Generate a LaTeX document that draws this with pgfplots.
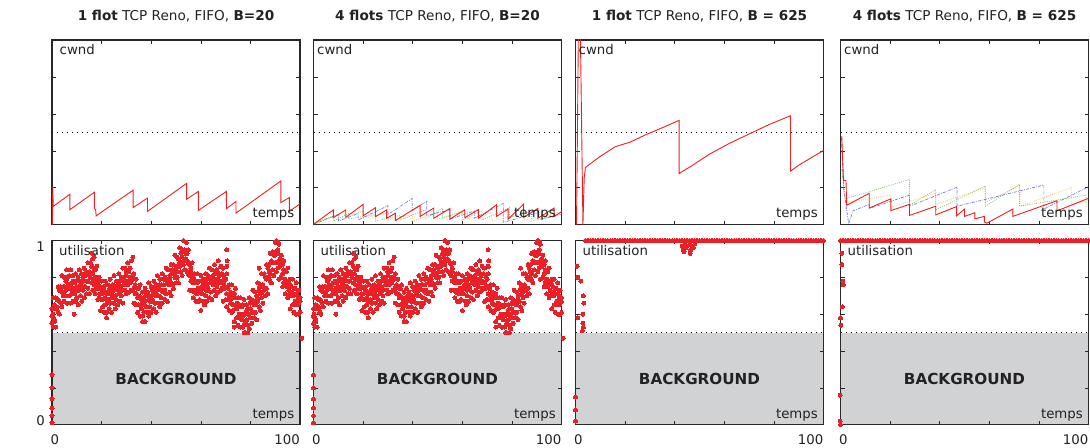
\documentclass[border=0pt]{standalone}
\usepackage{pgfplots}
\pgfplotsset{compat=1.18}
\usepackage{pgfplotstable}
\usepackage{fontspec}
\setmainfont{DejaVu Sans}
\definecolor{lred}{RGB}{240,30,30}
\definecolor{sred}{RGB}{234,32,38}
\definecolor{bgg}{RGB}{209,210,212}
\definecolor{fr}{RGB}{40,40,40}
\definecolor{txt}{RGB}{34,34,34}
\definecolor{lblue}{RGB}{70,80,200}
\definecolor{lgreen}{RGB}{90,175,50}
\definecolor{lorange}{RGB}{250,175,50}
\newcommand{\lf}{\fontsize{13.3bp}{16bp}\selectfont}
\newcommand{\tf}{\fontsize{13.6bp}{16bp}\selectfont}
\newcommand{\bgf}{\fontsize{15.2bp}{18bp}\selectfont\bfseries}

\pgfplotstableread{
x a c b
0 .63 .59 .55
0.5 .69 .58 .53
1 .64 .65 .57
1.5 .69 .63 .53
2 .68 .64 .63
2.5 .75 .68 .61
3 .73 .67 .60
3.5 .75 .73 .66
4 .81 .72 .64
4.5 .75 .72 .70
5 .80 .75 .67
5.5 .78 .73 .70
6 .84 .79 .66
6.5 .80 .76 .74
7 .81 .75 .70
7.5 .84 .76 .66
8 .77 .73 .71
8.5 .81 .78 .67
9 .77 .74 .71
9.5 .82 .73 .67
10 .78 .75 .69
10.5 .80 .73 .65
11 .84 .78 .73
11.5 .78 .76 .70
12 .82 .75 .67
12.5 .80 .78 .73
13 .85 .75 .69
13.5 .82 .81 .75
14 .83 .78 .71
14.5 .88 .78 .74
15 .83 .82 .71
15.5 .88 .80 .80
16 .86 .86 .77
16.5 .90 .82 .73
17 .84 .79 .76
17.5 .84 .80 .71
18 .86 .75 .74
18.5 .77 .78 .68
19 .80 .74 .69
19.5 .75 .71 .62
20 .78 .71 .68
20.5 .74 .68 .64
21 .75 .73 .61
21.5 .78 .69 .65
22 .71 .68 .61
22.5 .76 .71 .67
23 .73 .68 .63
23.5 .79 .74 .66
24 .75 .71 .61
24.5 .76 .70 .69
25 .81 .73 .66
25.5 .74 .70 .63
26 .78 .75 .68
26.5 .76 .73 .65
27 .82 .73 .71
27.5 .78 .75 .67
28 .80 .73 .70
28.5 .85 .79 .66
29 .80 .78 .76
29.5 .85 .78 .73
30 .83 .81 .71
30.5 .88 .78 .76
31 .84 .83 .72
31.5 .85 .80 .77
32 .89 .79 .73
32.5 .80 .79 .73
33 .82 .74 .66
33.5 .76 .76 .71
34 .79 .71 .65
34.5 .74 .69 .61
35 .74 .70 .65
35.5 .76 .65 .59
36 .68 .69 .63
36.5 .72 .66 .59
37 .69 .65 .61
37.5 .74 .67 .56
38 .70 .64 .64
38.5 .72 .70 .61
39 .77 .68 .59
39.5 .70 .67 .64
40 .75 .70 .61
40.5 .73 .68 .67
41 .78 .73 .63
41.5 .75 .71 .66
42 .76 .70 .61
42.5 .81 .73 .70
43 .74 .70 .66
43.5 .79 .76 .64
44 .76 .73 .69
44.5 .82 .73 .66
45 .79 .76 .72
45.5 .80 .73 .68
46 .85 .79 .71
46.5 .79 .77 .67
47 .84 .77 .76
47.5 .81 .79 .72
48 .87 .77 .70
48.5 .84 .83 .76
49 .87 .82 .74
49.5 .92 .82 .80
50 .86 .85 .77
50.5 .91 .83 .80
51 .90 .90 .77
51.5 .96 .88 .86
52 .93 .88 .83
52.5 .95 .91 .81
53 1.00 .89 .87
53.5 .94 .95 .84
54 .99 .93 .90
54.5 .93 .89 .83
55 .95 .88 .82
55.5 .87 .81 .73
56 .85 .83 .78
56.5 .88 .79 .73
57 .80 .77 .69
57.5 .82 .77 .72
58 .78 .73 .67
58.5 .82 .77 .71
59 .78 .74 .67
59.5 .78 .72 .68
60 .81 .73 .62
60.5 .75 .71 .71
61 .79 .76 .67
61.5 .77 .74 .65
62 .82 .73 .70
62.5 .79 .76 .67
63 .81 .74 .73
63.5 .85 .79 .69
64 .79 .77 .72
64.5 .84 .77 .68
65 .81 .79 .76
65.5 .87 .77 .73
66 .83 .82 .70
66.5 .84 .79 .75
67 .89 .79 .72
67.5 .82 .81 .77
68 .86 .78 .73
68.5 .82 .82 .74
69 .85 .77 .67
69.5 .80 .75 .74
70 .79 .75 .68
70.5 .82 .71 .64
71 .74 .75 .68
71.5 .76 .70 .62
72 .72 .68 .66
72.5 .76 .69 .61
73 .71 .65 .62
73.5 .71 .69 .56
74 .74 .65 .63
74.5 .66 .63 .58
75 .69 .64 .54
75.5 .65 .60 .58
76 .69 .64 .53
76.5 .64 .60 .57
77 .65 .59 .53
77.5 .68 .60 .54
78 .60 .56 .50
78.5 .65 .62 .57
79 .63 .60 .54
79.5 .69 .60 .52
80 .66 .63 .58
80.5 .68 .61 .55
81 .73 .67 .61
81.5 .67 .65 .58
82 .72 .65 .61
82.5 .70 .68 .57
83 .77 .67 .67
83.5 .74 .73 .64
84 .76 .71 .62
84.5 .82 .72 .69
85 .76 .75 .66
85.5 .82 .74 .73
86 .80 .80 .70
86.5 .87 .79 .74
87 .85 .80 .71
87.5 .87 .83 .80
88 .93 .82 .78
88.5 .88 .89 .77
89 .94 .88 .84
89.5 .92 .88 .81
90 .99 .92 .88
90.5 .94 .88 .83
91 .95 .93 .85
91.5 .98 .89 .79
92 .90 .87 .86
92.5 .92 .87 .80
93 .87 .82 .75
93.5 .89 .84 .77
94 .83 .79 .71
94.5 .83 .77 .75
95 .85 .77 .69
95.5 .77 .73 .70
96 .79 .76 .63
96.5 .75 .72 .70
97 .79 .70 .65
97.5 .74 .71 .61
98 .74 .67 .65
98.5 .77 .71 .60
99 .70 .68 .65
99.5 .73 .66 .60
100 .69 .67 .61
}\util

\pgfplotstableread{
x y
0 0.01
0 0.05
0 0.09
0 0.14
0 0.20
0 0.27
0.3 0.60
1 0.56
9 0.60
16.2 0.93
17 0.91
22 0.58
32.6 0.91
36.5 0.56
54.2 0.99
70.4 0.95
70.6 0.89
70.5 0.86
73.5 0.53
77.5 0.50
79 0.50
83.5 0.85
90.5 1.00
91.2 0.99
100.7 0.47
}\utilx

\pgfplotstableread{
x y
0 1
1 1
2 1
3 1
4 1
5 1
6 1
7 1
8 1
9 1
10 1
11 1
12 1
13 1
14 1
15 1
16 1
17 1
18 1
19 1
20 1
21 1
22 1
23 1
24 1
25 1
26 1
27 1
28 1
29 1
30 1
31 1
32 1
33 1
34 1
35 1
36 1
37 1
38 1
39 1
40 1
41 1
42 1
43 1
44 1
45 1
46 1
47 1
48 1
49 1
50 1
51 1
52 1
53 1
54 1
55 1
56 1
57 1
58 1
59 1
60 1
61 1
62 1
63 1
64 1
65 1
66 1
67 1
68 1
69 1
70 1
71 1
72 1
73 1
74 1
75 1
76 1
77 1
78 1
79 1
80 1
81 1
82 1
83 1
84 1
85 1
86 1
87 1
88 1
89 1
90 1
91 1
92 1
93 1
94 1
95 1
96 1
97 1
98 1
99 1
100 1
}\ones

\pgfplotsset{
 base/.style={scale only axis, width=248bp, xmin=0, xmax=100, anchor=south west,
   axis line style={draw=fr, line width=1.2bp},
   tick align=inside, major tick length=4bp,
   tick style={draw=fr, line width=0.6bp},
   xtick={0,20,40,60,80,100}, xticklabels={}, yticklabels={},
 },
 toprow/.style={base, height=184.7bp, ymin=0, ymax=1000, ytick={0,200,400,600,800,1000}},
 botrow/.style={base, height=184.2bp, ymin=0, ymax=1, ytick={0,0.2,0.4,0.6,0.8,1}, clip=false, axis on top},
 dotl/.style={draw=black, line width=1.1bp, dash pattern=on 1.1bp off 3.9bp, mark=none},
 rl/.style={draw=lred, line width=0.9bp, mark=none},
 bl/.style={draw=lblue, line width=0.7bp, mark=none, opacity=0.75, dash pattern=on 3bp off 1.2bp on 0.8bp off 1.2bp},
 gl/.style={draw=lgreen, line width=0.7bp, mark=none, opacity=0.75, dash pattern=on 1bp off 1.2bp},
 ol/.style={draw=lorange, line width=0.7bp, mark=none, opacity=0.75, dash pattern=on 1bp off 1.2bp},
 sc/.style={color=sred, only marks, mark=*, mark size=2bp, mark options={fill=sred, draw=sred, line width=0pt}},
 bgfill/.style={draw=none, fill=bgg, mark=none},
}

\begin{document}
\begin{tikzpicture}[every node/.style={text=txt}]
\useasboundingbox (0,0) rectangle (1090bp,448bp);

% titles
\node[anchor=base, font=\tf] at (176bp,427.5bp) {\textbf{1 flot} TCP Reno, FIFO, \textbf{B=20}};
\node[anchor=base, font=\tf] at (437.5bp,427.5bp) {\textbf{4 flots} TCP Reno, FIFO, \textbf{B=20}};
\node[anchor=base, font=\tf] at (699.5bp,427.5bp) {\textbf{1 flot} TCP Reno, FIFO, \textbf{B = 625}};
\node[anchor=base, font=\tf] at (964.5bp,427.5bp) {\textbf{4 flots} TCP Reno, FIFO, \textbf{B = 625}};

% ---------------- top row ----------------
\begin{axis}[toprow, at={(52bp,223.3bp)}]
\addplot[dotl] coordinates {(0,500) (100,500)};
\addplot[rl] coordinates {(0.2,0) (0.3,206) (0.5,99) (7.2,165) (7.2,81) (17.1,176) (17.1,90) (17.6,81) (17.8,48) (32.7,187) (32.7,93) (38.5,144) (38.5,72) (54.3,224) (54.3,138) (59,180) (59,77) (70.3,180) (70.3,86) (74.2,126) (74.2,63) (92.3,237) (92.3,120) (95.7,147) (95.7,72) (100,113)};
\node[anchor=base west, inner sep=0, font=\lf] at ([xshift=7.5bp,yshift=-15bp]rel axis cs:0,1) {cwnd};
\node[anchor=base east, inner sep=0, font=\lf] at ([xshift=-5.5bp,yshift=6.7bp]rel axis cs:1,0) {temps};
\node[anchor=north east, inner sep=0, font=\lf] at ([xshift=-7bp,yshift=-1.5bp]rel axis cs:0,1) {1000};
\node[anchor=south east, inner sep=0, font=\lf] at ([xshift=-7bp,yshift=0.5bp]rel axis cs:0,0) {0};
\end{axis}

\begin{axis}[toprow, at={(313.5bp,223.3bp)}]
\addplot[dotl] coordinates {(0,500) (100,500)};
\addplot[ol] coordinates {(0,5) (10,55) (10,25) (20,75) (20,35) (30,65) (30,25) (40,55) (40,20) (50,65) (50,30) (62,80) (62,30) (72,65) (72,20) (85,60) (85,25) (100,70)};
\addplot[gl] coordinates {(0,10) (8,45) (8,20) (14,60) (14,30) (25,55) (25,20) (35,50) (35,25) (45,80) (45,30) (52,90) (52,35) (60,70) (60,25) (68,75) (68,25) (79,92) (79,40) (88,70) (88,20) (100,60)};
\addplot[bl] coordinates {(0,0) (5,30) (10,55) (10,20) (18,60) (18,25) (30,103) (30,55) (39.8,142) (39.8,75) (45.7,128) (45.7,50) (55,80) (55,30) (65,75) (65,35) (76.5,115) (76.5,12) (85,45) (92,70) (92,30) (100,55)};
\addplot[rl] coordinates {(0,2) (8,80) (8,38) (13,80) (13,40) (20,110) (20,48) (25,92) (25,44) (29.5,80) (29.5,35) (33,62) (33,22) (43,105) (43,45) (48.5,90) (48.5,35) (55,88) (55,30) (61,81) (61,38) (66.5,82) (66.5,35) (73.8,108) (73.8,45) (78.5,85) (78.5,30) (84.7,111) (84.7,40) (90.5,88) (90.5,35) (97,90) (97,45) (100,70)};
\node[anchor=base west, inner sep=0, font=\lf] at ([xshift=3.5bp,yshift=-15bp]rel axis cs:0,1) {cwnd};
\node[anchor=base east, inner sep=0, font=\lf] at ([xshift=-5.5bp,yshift=6.7bp]rel axis cs:1,0) {temps};
\end{axis}

\begin{axis}[toprow, at={(575.5bp,223.3bp)}]
\addplot[dotl] coordinates {(0,500) (100,500)};
\addplot[rl] coordinates {(0.4,0) (0.6,250) (1.2,1100) (1.9,1100) (3.0,0) (3.5,250) (4.0,310) (10,370) (16,422) (22,447) (28,485) (35,525) (41.8,565) (41.8,277) (47,320) (54,382) (62,440) (70.5,494) (78,542) (86.7,590) (86.7,290) (90,322) (95,362) (100,402)};
\node[anchor=base west, inner sep=0, font=\lf] at ([xshift=3bp,yshift=-15bp]rel axis cs:0,1) {cwnd};
\node[anchor=base east, inner sep=0, font=\lf] at ([xshift=-5.5bp,yshift=6.7bp]rel axis cs:1,0) {temps};
\end{axis}

\begin{axis}[toprow, at={(840.5bp,223.3bp)}]
\addplot[dotl] coordinates {(0,500) (100,500)};
\addplot[ol] coordinates {(0.5,420) (1.5,150) (2.5,120) (20.3,160) (20.3,95) (38.4,170) (38.4,110) (58.4,200) (58.4,120) (72.4,215) (72.4,100) (93,200) (93,110) (100,130)};
\addplot[gl] coordinates {(0.5,300) (2,140) (27.8,245) (27.8,105) (38.4,190) (38.4,80) (58.4,210) (58.4,100) (72.2,218) (72.2,100) (99,160) (99,100) (100,100)};
\addplot[bl] coordinates {(0.4,470) (1.2,200) (3.3,5) (5,75) (11.6,110) (11.6,88) (27.8,160) (27.8,100) (47,203) (47,100) (82,215) (82,85) (100,205)};
\addplot[rl] coordinates {(0.5,480) (1.2,240) (2.2,240) (2.5,105) (11.6,170) (11.6,90) (20.3,140) (20.3,76) (27.8,110) (27.8,50) (38.4,100) (38.4,53) (46.8,98) (46.8,48) (50,84) (50,45) (54.2,65) (54.2,32) (58,45) (58,15) (59,8) (69.5,85) (69.5,45) (87.3,130) (87.3,75) (100,143)};
\node[anchor=base west, inner sep=0, font=\lf] at ([xshift=3.5bp,yshift=-15bp]rel axis cs:0,1) {cwnd};
\node[anchor=base east, inner sep=0, font=\lf] at ([xshift=-5.5bp,yshift=6.7bp]rel axis cs:1,0) {temps};
\end{axis}

% ---------------- bottom row ----------------
\begin{axis}[botrow, at={(52bp,23.3bp)}]
\addplot[bgfill] coordinates {(0,0.5) (100,0.5)} \closedcycle;
\addplot[dotl] coordinates {(0,0.5) (100,0.5)};
\node[font=\bgf] at (axis cs:50,0.25) {BACKGROUND};
\addplot[sc] table[x=x,y=a] {\util};
\addplot[sc] table[x=x,y=c] {\util};
\addplot[sc] table[x=x,y=b] {\util};
\addplot[sc] table[x=x,y=y] {\utilx};
\node[anchor=base west, inner sep=0, font=\lf] at ([xshift=7bp,yshift=-15.5bp]rel axis cs:0,1) {utilisation};
\node[anchor=base east, inner sep=0, font=\lf] at ([xshift=-5.5bp,yshift=6.7bp]rel axis cs:1,0) {temps};
\node[anchor=north east, inner sep=0, font=\lf] at ([xshift=-7bp,yshift=-1.5bp]rel axis cs:0,1) {1};
\node[anchor=south east, inner sep=0, font=\lf] at ([xshift=-7bp,yshift=-1bp]rel axis cs:0,0) {0};
\node[anchor=north west, inner sep=0, font=\lf] at ([xshift=-1.5bp,yshift=-10bp]rel axis cs:0,0) {0};
\node[anchor=north east, inner sep=0, font=\lf] at ([yshift=-10bp]rel axis cs:1,0) {100};
\end{axis}

\begin{axis}[botrow, at={(313.5bp,23.3bp)}]
\addplot[bgfill] coordinates {(0,0.5) (100,0.5)} \closedcycle;
\addplot[dotl] coordinates {(0,0.5) (100,0.5)};
\node[font=\bgf] at (axis cs:50,0.25) {BACKGROUND};
\addplot[sc] table[x=x,y=a] {\util};
\addplot[sc] table[x=x,y=c] {\util};
\addplot[sc] table[x=x,y=b] {\util};
\addplot[sc] table[x=x,y=y] {\utilx};
\node[anchor=base west, inner sep=0, font=\lf] at ([xshift=7bp,yshift=-15.5bp]rel axis cs:0,1) {utilisation};
\node[anchor=base east, inner sep=0, font=\lf] at ([xshift=-5.5bp,yshift=6.7bp]rel axis cs:1,0) {temps};
\node[anchor=north west, inner sep=0, font=\lf] at ([xshift=-1.5bp,yshift=-10bp]rel axis cs:0,0) {0};
\node[anchor=north east, inner sep=0, font=\lf] at ([yshift=-10bp]rel axis cs:1,0) {100};
\end{axis}

\begin{axis}[botrow, at={(575.5bp,23.3bp)}]
\addplot[bgfill] coordinates {(0,0.5) (100,0.5)} \closedcycle;
\addplot[dotl] coordinates {(0,0.5) (100,0.5)};
\node[font=\bgf] at (axis cs:50,0.25) {BACKGROUND};
\addplot[sc, restrict x to domain=3.5:100] table[x=x,y=y] {\ones};
\addplot[sc] coordinates {(0.7,0.86) (0.9,0.80) (2.1,0.78) (3.1,0.70) (3.3,0.66) (2.9,0.60) (3.0,0.55) (2.8,0.51) (3.2,0.53) (1.0,0.58) (0,0.15) (0,0.08) (0,0.02) (43,0.97) (43.5,0.95) (44,0.98) (44.5,0.96) (45,0.97) (46,0.98) (46.5,0.95) (47,0.97) (47.5,0.96) (48,0.98) (43.8,0.94) (46.2,0.93)};
\node[anchor=base west, inner sep=0, font=\lf] at ([xshift=7bp,yshift=-15.5bp]rel axis cs:0,1) {utilisation};
\node[anchor=base east, inner sep=0, font=\lf] at ([xshift=-5.5bp,yshift=6.7bp]rel axis cs:1,0) {temps};
\node[anchor=north west, inner sep=0, font=\lf] at ([xshift=-1.5bp,yshift=-10bp]rel axis cs:0,0) {0};
\node[anchor=north east, inner sep=0, font=\lf] at ([yshift=-10bp]rel axis cs:1,0) {100};
\end{axis}

\begin{axis}[botrow, at={(840.5bp,23.3bp)}]
\addplot[bgfill] coordinates {(0,0.5) (100,0.5)} \closedcycle;
\addplot[dotl] coordinates {(0,0.5) (100,0.5)};
\node[font=\bgf] at (axis cs:50,0.25) {BACKGROUND};
\addplot[sc] table[x=x,y=y] {\ones};
\addplot[sc] coordinates {(0.6,0.93) (0.6,0.87) (1.0,0.78) (1.1,0.76) (0.7,0.64) (0,0.58) (0.1,0.54) (-0.2,0.16) (-0.2,0.02) (0,0.0)};
\node[anchor=base west, inner sep=0, font=\lf] at ([xshift=7bp,yshift=-15.5bp]rel axis cs:0,1) {utilisation};
\node[anchor=base east, inner sep=0, font=\lf] at ([xshift=-5.5bp,yshift=6.7bp]rel axis cs:1,0) {temps};
\node[anchor=north west, inner sep=0, font=\lf] at ([xshift=-1.5bp,yshift=-10bp]rel axis cs:0,0) {0};
\node[anchor=north east, inner sep=0, font=\lf] at ([yshift=-10bp]rel axis cs:1,0) {100};
\end{axis}
\end{tikzpicture}
\end{document}
